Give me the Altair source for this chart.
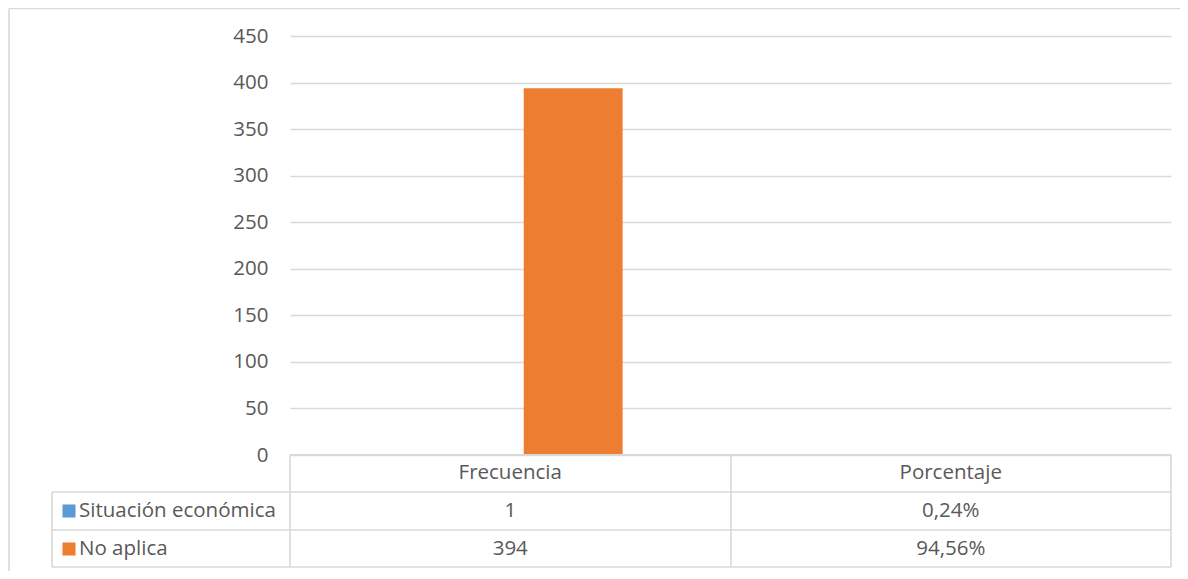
import altair as alt
import pandas as pd

categories = ["Frecuencia", "Porcentaje"]
series = ["Situación económica", "No aplica"]
frecuencia = [1, 394]
porcentaje = [0.0024, 0.9456]
frecuencia_labels = ["1", "394"]
porcentaje_labels = ["0,24%", "94,56%"]
colors = ["#5B9BD5", "#ED7D31"]
y_ticks = [0, 50, 100, 150, 200, 250, 300, 350, 400, 450]

rows = []
for i, s in enumerate(series):
    rows.append({"categoria": "Frecuencia", "serie": s, "valor": frecuencia[i], "etiqueta": frecuencia_labels[i], "orden": i})
    rows.append({"categoria": "Porcentaje", "serie": s, "valor": porcentaje[i], "etiqueta": porcentaje_labels[i], "orden": i})
df = pd.DataFrame(rows)

FONT = "Open Sans"
TXT = "#595959"
GRID = "#d9d9d9"
FS = 20.5

W, H = 881, 419
x_scale = alt.Scale(domain=categories, paddingInner=0.4898, paddingOuter=0.2449)
color_scale = alt.Scale(domain=series, range=colors)

base = alt.Chart(df)

bars = base.mark_bar().encode(
    x=alt.X("categoria:N", scale=x_scale, axis=None),
    xOffset=alt.XOffset("serie:N", sort=series, scale=alt.Scale(domain=series, paddingInner=0.2143, paddingOuter=0)),
    y=alt.Y("valor:Q", scale=alt.Scale(domain=[0, 450]),
            axis=alt.Axis(values=y_ticks, title=None, domain=False, ticks=False,
                          grid=True, gridColor=GRID, gridWidth=1.3,
                          labelFont=FONT, labelFontSize=FS, labelColor=TXT, labelPadding=22)),
    color=alt.Color("serie:N", scale=color_scale, legend=None),
)

# table texts
header = alt.Chart(pd.DataFrame({"categoria": categories})).mark_text(
    font=FONT, fontSize=FS, color=TXT, baseline="middle", align="center"
).encode(x=alt.X("categoria:N", scale=x_scale), y=alt.value(437), text="categoria:N")

row_layers = []
row_y = [475, 513]
for i, s in enumerate(series):
    sub = df[df["serie"] == s]
    row_layers.append(
        alt.Chart(sub).mark_text(font=FONT, fontSize=FS, color=TXT, baseline="middle", align="center")
        .encode(x=alt.X("categoria:N", scale=x_scale), y=alt.value(row_y[i]), text="etiqueta:N")
    )
    one = pd.DataFrame({"serie": [s]})
    row_layers.append(
        alt.Chart(one).mark_text(font=FONT, fontSize=FS, color=TXT, baseline="middle", align="left")
        .encode(x=alt.value(-211), y=alt.value(row_y[i]), text="serie:N")
    )
    row_layers.append(
        alt.Chart(one).mark_square(size=170, opacity=1, filled=True)
        .encode(x=alt.value(-221), y=alt.value(row_y[i]),
                color=alt.Color("serie:N", scale=color_scale, legend=None))
    )

single = pd.DataFrame({"k": [0]})
def rule(x1, x2, y1, y2, w=1.6):
    return alt.Chart(single).mark_rule(color=GRID, strokeWidth=w).encode(
        x=alt.value(x1), x2=alt.value(x2), y=alt.value(y1), y2=alt.value(y2))

lines = [
    rule(0, W, H, H, 2),
    rule(-238, W, 456, 456),
    rule(-238, W, 494, 494),
    rule(-238, W, 531, 531),
    rule(0, 0, H, 531),
    rule(441, 441, H, 531),
    rule(W, W, H, 531),
    rule(-238, -238, 456, 531),
    # outer chart border
    rule(-281, -281, -27.5, 560),
    rule(-281, W + 20, -27.5, -27.5),
]

chart = alt.layer(bars, *lines, header, *row_layers).properties(
    width=W, height=H,
    autosize=alt.AutoSizeParams(type="none"),
    padding={"left": 282, "top": 28, "right": 9, "bottom": 116},
).configure_view(stroke=None)

chart.save("out.html", embed_options={"renderer": "svg", "actions": False})
